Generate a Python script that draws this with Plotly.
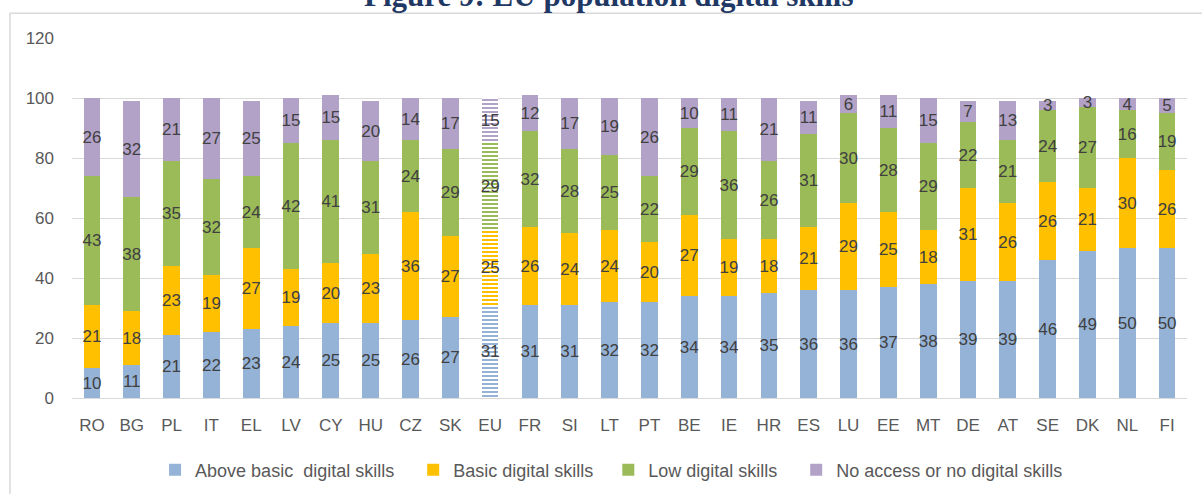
import plotly.graph_objects as go

countries = ["RO", "BG", "PL", "IT", "EL", "LV", "CY", "HU", "CZ", "SK", "EU", "FR", "SI", "LT",
             "PT", "BE", "IE", "HR", "ES", "LU", "EE", "MT", "DE", "AT", "SE", "DK", "NL", "FI"]
above_basic = [10, 11, 21, 22, 23, 24, 25, 25, 26, 27, 31, 31, 31, 32, 32, 34, 34, 35, 36, 36, 37, 38, 39, 39, 46, 49, 50, 50]
basic = [21, 18, 23, 19, 27, 19, 20, 23, 36, 27, 25, 26, 24, 24, 20, 27, 19, 18, 21, 29, 25, 18, 31, 26, 26, 21, 30, 26]
low = [43, 38, 35, 32, 24, 42, 41, 31, 24, 29, 29, 32, 28, 25, 22, 29, 36, 26, 31, 30, 28, 29, 22, 21, 24, 27, 16, 19]
no_access = [26, 32, 21, 27, 25, 15, 15, 20, 14, 17, 15, 12, 17, 19, 26, 10, 11, 21, 11, 6, 11, 15, 7, 13, 3, 3, 4, 5]

series_names = ["Above basic  digital skills", "Basic digital skills", "Low digital skills",
                "No access or no digital skills"]
series_values = [above_basic, basic, low, no_access]
colors = ["#95B3D7", "#FFC000", "#9BBB59", "#B3A2C7"]
highlight = "EU"
legend_ids = ["legend", "legend2", "legend3", "legend4"]
legend_x = [0.0745, 0.3060, 0.4810, 0.6495]

FONT = "'Liberation Sans', Arial, sans-serif"

fig = go.Figure()
shapes = ["-" if c == highlight else "" for c in countries]
for name, vals, col, lg in zip(series_names, series_values, colors, legend_ids):
    fig.add_trace(go.Bar(
        x=countries, y=vals, name=name, legend=lg,
        marker=dict(color=col, line=dict(width=0),
                    pattern=dict(shape=shapes, fillmode="replace", bgcolor="white",
                                 fgcolor=col, size=4, solidity=0.5)),
        text=[str(v) for v in vals], textposition="inside", insidetextanchor="middle",
        textangle=0, constraintext="none",
        textfont=dict(family=FONT, size=17, color="#404040"),
    ))

legend_style = dict(orientation="h", y=-0.2, yanchor="middle", xanchor="left",
                    font=dict(family=FONT, size=18, color="#595959"), itemwidth=30,
                    bgcolor="rgba(0,0,0,0)", borderwidth=0)
legends = {lg: dict(x=lx, **legend_style) for lg, lx in zip(legend_ids, legend_x)}

fig.update_layout(
    barmode="stack", bargap=0.58,
    width=1202, height=494,
    margin=dict(l=72, r=15, t=38, b=96, autoexpand=False),
    paper_bgcolor="white", plot_bgcolor="white",
    font=dict(family=FONT, size=17, color="#595959"),
    uniformtext=dict(minsize=17, mode="show"),
    showlegend=True,
    annotations=[dict(text="<b>Figure 9: EU population digital skills</b>", xref="paper", yref="paper",
                      x=0.482, y=1.119, xanchor="center", yanchor="middle", showarrow=False,
                      font=dict(family="'Liberation Serif', 'Times New Roman', serif", size=31,
                                color="#1F3864"))],
    shapes=[dict(type="rect", xref="paper", yref="paper", x0=-0.0556, x1=1.03, y0=-0.3, y1=1.069,
                 line=dict(color="#D9D9D9", width=1.5), fillcolor="rgba(0,0,0,0)", layer="below")],
    **legends,
)
fig.update_xaxes(showgrid=False, showline=True, linecolor="#D9D9D9", linewidth=1,
                 ticks="", ticklabelstandoff=12, tickfont=dict(size=17, color="#595959"))
fig.update_yaxes(range=[0, 120], dtick=20, showgrid=True, gridcolor="#D9D9D9", gridwidth=1,
                 zeroline=False, ticks="", ticklabelstandoff=17,
                 tickfont=dict(size=17, color="#595959"))

fig.write_html("out.html", config={"displayModeBar": False},
               post_script="document.body.style.margin='0px';")
